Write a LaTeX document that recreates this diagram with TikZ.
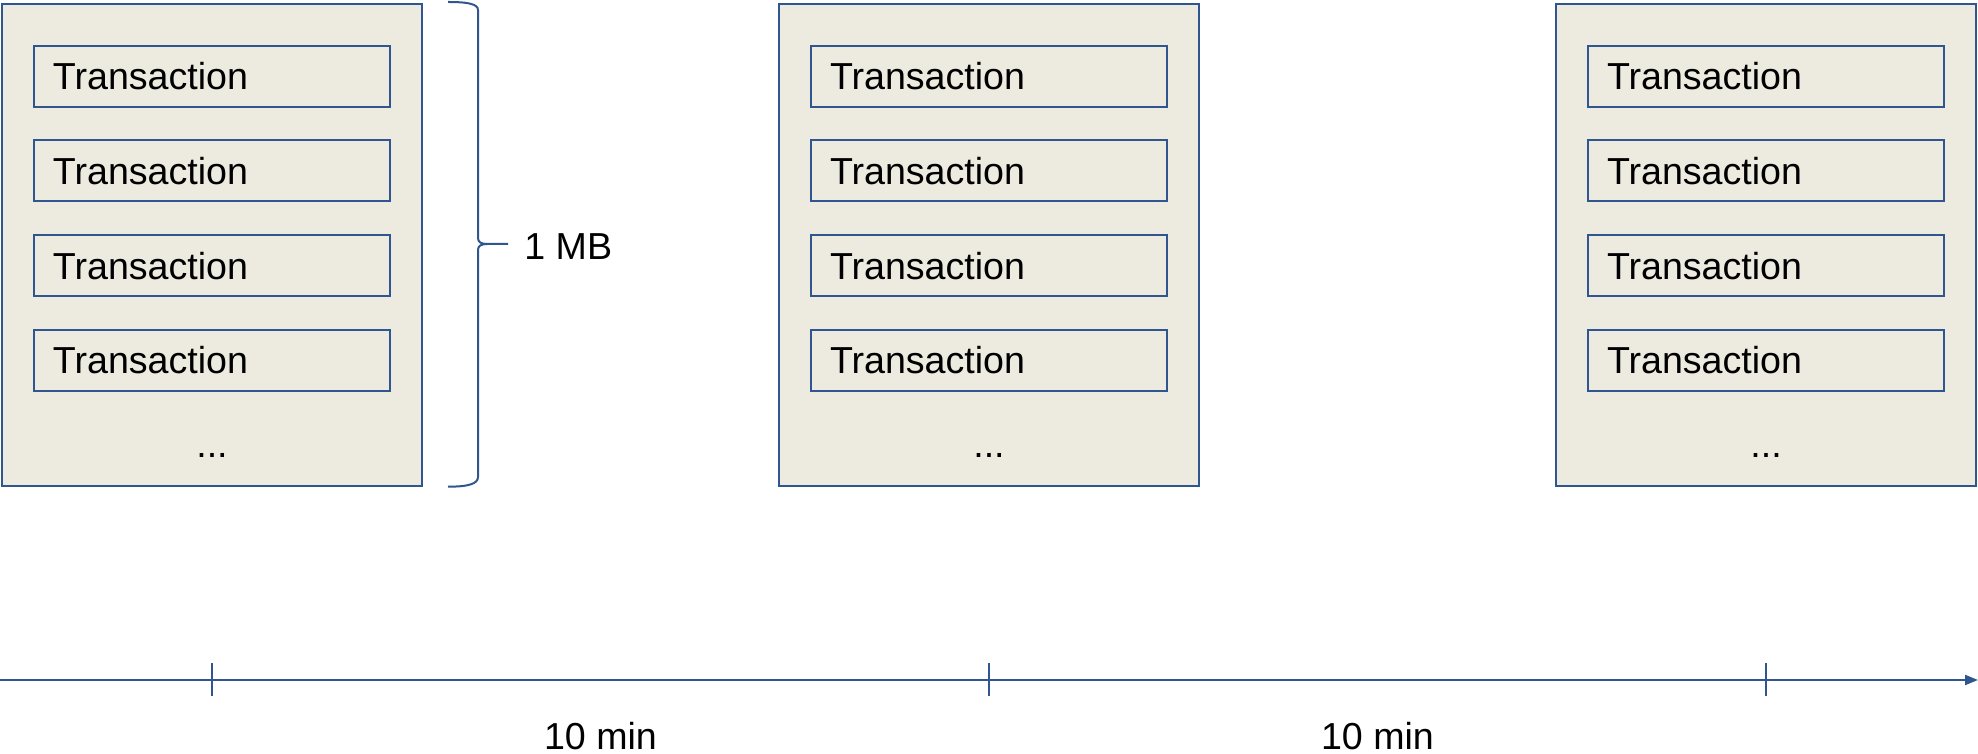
\documentclass[tikz,border=0pt]{standalone}
\usepackage{fontspec}
\setmainfont{Liberation Sans}
\usetikzlibrary{arrows.meta,positioning}

\definecolor{blockline}{HTML}{30568F}
\definecolor{blockfill}{HTML}{EDEBE0}

\begin{document}
\begin{tikzpicture}[x=0.5pt,y=0.5pt,node distance=388.5pt,
                    every node/.style={font=\fontsize{18.8}{22}\selectfont,inner sep=0pt},
                    block/.style={draw=blockline,fill=blockfill,line width=1pt,
                                  minimum width=210pt,minimum height=241pt},
                    tx/.style={draw=blockline,line width=1pt,text width=159pt,align=left,
                               inner xsep=9.5pt,minimum height=30.5pt,node distance=47.3pt},
                    brace/.style={draw=blockline,line width=1pt},
                    axis/.style={draw=blockline,line width=1.1pt,-{Triangle[length=6.5pt,width=5pt]}},
                    tick/.style={draw=blockline,line width=0.75pt}]
  \useasboundingbox (0,0) rectangle (1978,754);

  \node[block] (b1) at (212,508.6) {};
  \node[block] (b2) [right of=b1] {};
  \node[block] (b3) [right of=b2] {};

  \foreach \b in {b1,b2,b3}{
    \node[tx,yshift=-36.5pt] (\b t1) at (\b.north) {Transaction};
    \foreach \r [count=\s from 2] in {1,2,3}
      \node[tx,below of=\b t\r] (\b t\s) {Transaction};
    \node[anchor=base,yshift=15pt] (\b dots) at (\b.south) {...};
  }

  % 1 MB brace
  \coordinate (tip) at (508,510);
  \draw[brace] (448,752) .. controls (468,752) and (478,750) .. (478,744) -- (478,516)
    .. controls (478,512) and (481,510) .. (487,510) -- (tip);
  \draw[brace] (487,510) .. controls (481,510) and (478,508) .. (478,504) -- (478,277)
    .. controls (478,270) and (468,267.3) .. (448,267.3);
  \node[right=8pt of tip,yshift=-1.5pt] (mb) {1 MB};

  % time line
  \coordinate (tl) at (0,74);
  \coordinate (tr) at (1978,74);
  \draw[axis] (tl) -- (tr);
  \foreach \b in {b1,b2,b3}
    \draw[tick] (\b.south |- tl) ++(0,16.5) -- ++(0,-33);
  \path (b1.south |- tl) -- node[yshift=-28.25pt] (m1) {10 min} (b2.south |- tl);
  \path (b2.south |- tl) -- node[yshift=-28.25pt] (m2) {10 min} (b3.south |- tl);
\end{tikzpicture}
\end{document}
